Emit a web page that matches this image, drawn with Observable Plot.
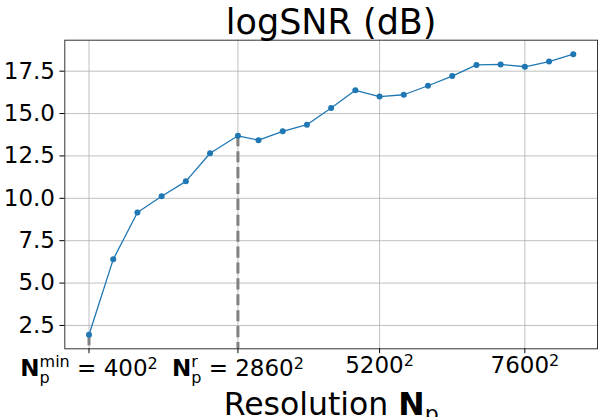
<!DOCTYPE html>
<html><head><meta charset="utf-8">
<script src="https://cdn.jsdelivr.net/npm/d3@7"></script>
<script src="https://cdn.jsdelivr.net/npm/@observablehq/plot@0.6"></script>
<style>body{margin:0;background:#fff} svg{display:block}</style>
</head><body><div id="chart"></div>
<script>
// ---- data ----
const resolutions = [400,800,1200,1600,2000,2400,2860,3200,3600,4000,4400,4800,5200,5600,6000,6400,6800,7200,7600,8000,8400];
const logSNR = [1.95,6.4,9.16,10.12,11.0,12.66,13.69,13.43,13.95,14.34,15.33,16.37,16.0,16.11,16.64,17.21,17.87,17.9,17.76,18.07,18.5];
const markerResolutions = [400, 2860];
const xTickValues = [400, 2860, 5200, 7600];
const xTickSymbols = ["N", "N", "", ""];
const xTickSymbolSub = ["p", "p", "", ""];
const xTickSymbolSup = ["min", "r", "", ""];
const xTickPower = "2";
const yTickValues = [2.5, 5, 7.5, 10, 12.5, 15, 17.5];
const titleText = "logSNR (dB)";
const xLabelText = "Resolution ";
const xLabelSymbol = "N";
const xLabelSub = "p";

const data = resolutions.map((r, i) => ({r, v: logSNR[i]}));
const markers = markerResolutions.map(r => ({r, v: logSNR[resolutions.indexOf(r)]}));

const xMin = d3.min(resolutions), xMax = d3.max(resolutions);
const yMin = d3.min(logSNR), yMax = d3.max(logSNR);
const xDom = [xMin - (xMax - xMin) * 0.05, xMax + (xMax - xMin) * 0.05];
const yDom = [yMin - (yMax - yMin) * 0.05, yMax + (yMax - yMin) * 0.05];

const tickFont = 23, supFont = 16;
const titleFont = 35, xLabelFont = 31.5;

const chart = Plot.plot({
  width: 602, height: 417,
  marginLeft: 64.3, marginRight: 5, marginTop: 39.7, marginBottom: 68.7,
  style: {fontFamily: "DejaVu Sans", fontSize: "23px", background: "white", color: "black"},
  x: {domain: xDom, label: null},
  y: {domain: yDom, label: null},
  marks: [
    Plot.gridX(xTickValues, {stroke: "#b0b0b0", strokeOpacity: 1, strokeWidth: 0.8}),
    Plot.gridY(yTickValues, {stroke: "#b0b0b0", strokeOpacity: 1, strokeWidth: 0.8}),
    Plot.ruleX(markers, {x: "r", y1: "v", y2: () => yDom[0], stroke: "#808080", strokeWidth: 3, strokeDasharray: "11.1,4.8"}),
    Plot.line(data, {x: "r", y: "v", stroke: "#1f77b4", strokeWidth: 1.3}),
    Plot.dot(data, {x: "r", y: "v", r: 3, fill: "#1f77b4", stroke: "none"}),
    Plot.frame({stroke: "#333", strokeWidth: 1}),
    Plot.axisX({ticks: xTickValues, tickSize: 4.9, tickPadding: 3, fontSize: tickFont, tickFormat: d => String(d), label: null}),
    Plot.axisY({ticks: yTickValues, tickSize: 4.9, tickPadding: 4.9, fontSize: tickFont, tickFormat: d3.format(".1f"), label: null}),
    Plot.text([titleText], {frameAnchor: "top", lineAnchor: "middle", dy: -6.7 - 0.32 * titleFont, fontSize: titleFont, text: d => d}),
    Plot.text([xLabelText], {frameAnchor: "bottom", lineAnchor: "middle", dy: 65.7 - 0.32 * xLabelFont, fontSize: xLabelFont, text: d => d})
  ]
});
document.getElementById("chart").appendChild(chart);

// ---- math-style labels (bold symbol, sub/superscripts) ----
const NS = "http://www.w3.org/2000/svg";
function tsp(parent, txt, attrs) {
  const s = document.createElementNS(NS, "tspan");
  s.textContent = txt;
  for (const k in attrs) s.setAttribute(k, attrs[k]);
  parent.appendChild(s);
  return s;
}
chart.querySelectorAll('g[aria-label="x-axis tick label"] text').forEach(t => {
  const val = +t.textContent.replace(/,/g, "");
  const i = xTickValues.indexOf(val);
  if (i < 0) return;
  t.textContent = "";
  if (xTickSymbols[i]) {
    tsp(t, xTickSymbols[i], {"font-weight": "bold", dy: 3});
    const p = tsp(t, xTickSymbolSub[i], {"font-size": supFont, dy: 7});
    const pw = p.getComputedTextLength();
    const s = tsp(t, xTickSymbolSup[i], {"font-size": supFont, dx: -pw, dy: -16});
    const sw = s.getComputedTextLength();
    tsp(t, "\u00a0=\u00a0" + val, {"font-size": tickFont, dy: 9, dx: Math.max(0, pw - sw)});
    tsp(t, xTickPower, {"font-size": supFont, dy: -7});
  } else {
    tsp(t, String(val), {});
    tsp(t, xTickPower, {"font-size": supFont, dy: -7});
  }
});
chart.querySelectorAll('text').forEach(t => {
  if (t.textContent === xLabelText) {
    t.textContent = "";
    tsp(t, xLabelText.replace(/ $/, "\u00a0"), {});
    tsp(t, xLabelSymbol, {"font-weight": "bold"});
    tsp(t, xLabelSub, {"font-size": 0.7 * xLabelFont, dy: 6});
  }
});
</script>
</body></html>
